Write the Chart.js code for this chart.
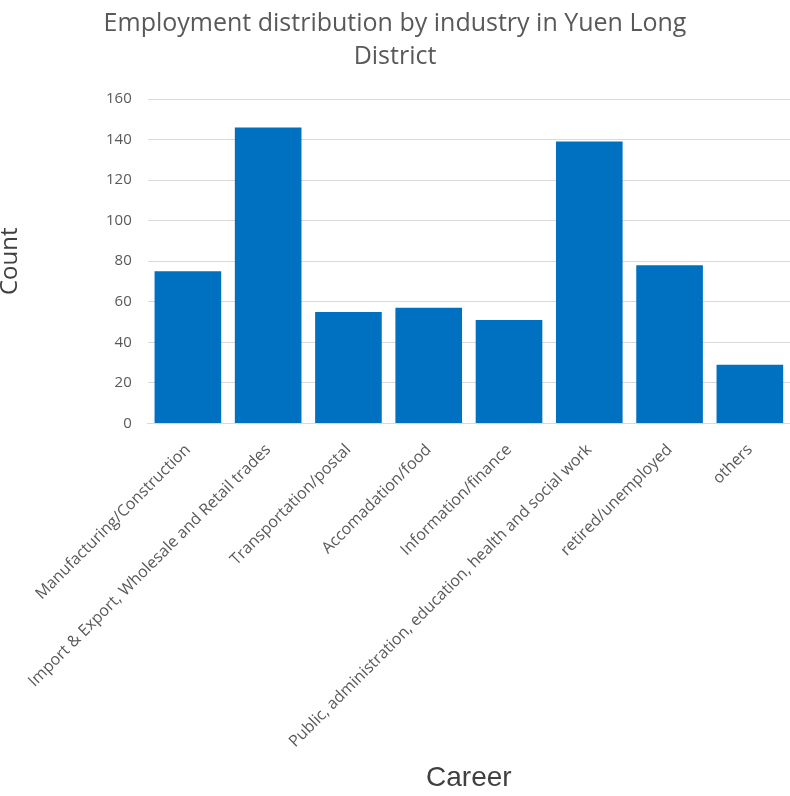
<!DOCTYPE html>
<html>
<head>
<meta charset="utf-8">
<script src="https://cdn.jsdelivr.net/npm/chart.js@4"></script>
<style>
  html, body { margin: 0; padding: 0; background: #fff; }
  #wrap { width: 790px; height: 796px; }
</style>
</head>
<body>
<div id="wrap"><canvas id="graficoEmprego"></canvas></div>
<script>
const careers = [
    'Manufacturing/Construction',
    'Import & Export, Wholesale and Retail trades',
    'Transportation/postal',
    'Accomadation/food',
    'Information/finance',
    'Public, administration, education, health and social work',
    'retired/unemployed',
    'others'
];
const counts = [75, 146, 55, 57, 51, 139, 78, 29];
const titleLines = ['Employment distribution by industry in Yuen Long', 'District'];

const ctx = document.getElementById('graficoEmprego').getContext('2d');
const graficoEmprego = new Chart(ctx, {
    type: 'bar',
    data: {
        labels: careers,
        datasets: [{
            label: 'Count',
            data: counts,
            backgroundColor: '#0070C0',
            borderWidth: 0,
            barPercentage: 0.83,
            categoryPercentage: 1
        }]
    },
    options: {
        responsive: true,
        maintainAspectRatio: false,
        animation: false,
        layout: { padding: { left: 0, right: 0, top: 0, bottom: 0 } },
        plugins: {
            legend: { display: false },
            tooltip: { enabled: false },
            title: {
                display: true,
                text: titleLines,
                color: '#595959',
                font: { family: 'Open Sans', size: 25, weight: 'normal', lineHeight: 1.32 },
                padding: { top: 7, bottom: 26 }
            }
        },
        scales: {
            x: {
                grid: { display: false },
                border: { color: '#D9D9D9', width: 1 },
                ticks: {
                    color: '#595959',
                    font: { family: 'Open Sans', size: 16 },
                    minRotation: 45,
                    maxRotation: 45,
                    autoSkip: false,
                    padding: 9
                },
                title: {
                    display: true,
                    text: 'Career',
                    color: '#404040',
                    font: { family: 'Liberation Sans', size: 28 },
                    padding: { top: 1, bottom: 1 }
                }
            },
            y: {
                min: 0,
                max: 160,
                grid: { color: '#D9D9D9', lineWidth: 1, drawTicks: false },
                border: { display: false },
                ticks: {
                    stepSize: 20,
                    color: '#595959',
                    font: { family: 'Open Sans', size: 15 },
                    padding: 16
                },
                title: {
                    display: true,
                    text: 'Count',
                    color: '#404040',
                    font: { family: 'Open Sans', size: 24, lineHeight: 1 },
                    padding: { top: -2, bottom: 68 }
                }
            }
        }
    }
});
</script>
</body>
</html>
